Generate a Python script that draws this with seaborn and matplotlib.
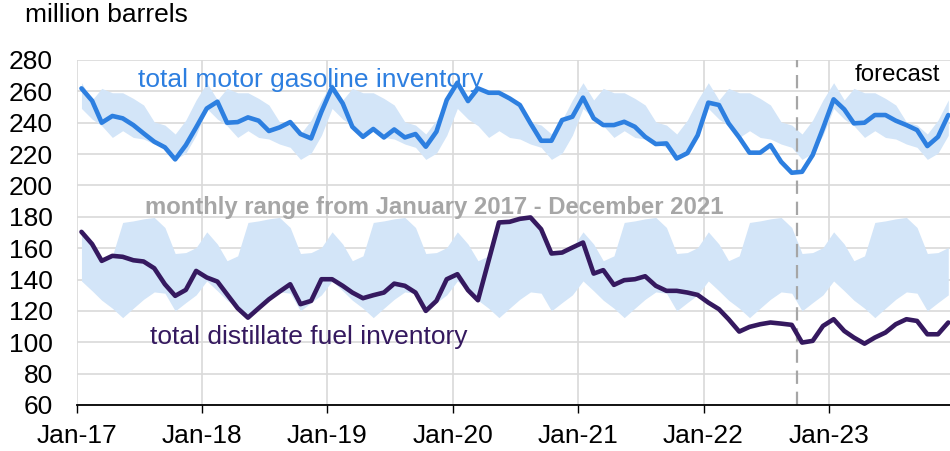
import numpy as np
import pandas as pd
import matplotlib
matplotlib.use("Agg")
import matplotlib.pyplot as plt
import matplotlib.dates as mdates
import seaborn as sns

# ---------------- data (million barrels, monthly) ----------------
months = pd.date_range("2017-01-01", periods=84, freq="MS")

gasoline = [
    261.9, 254.0, 240.0, 244.3, 242.8, 238.5, 233.2, 227.9, 224.3, 216.6, 225.7, 237.0,  # 2017
    249.1, 253.4, 240.0, 240.4, 243.4, 241.3, 234.7, 237.0, 240.4, 232.8, 230.0, 247.0,  # 2018
    262.6, 252.3, 237.4, 231.0, 236.0, 230.6, 235.7, 230.6, 232.8, 224.7, 234.3, 254.5,  # 2019
    265.5, 253.8, 261.9, 259.1, 259.1, 255.5, 251.3, 239.6, 228.5, 228.5, 241.7, 243.8,  # 2020
    256.0, 242.8, 238.5, 238.5, 240.6, 237.4, 231.0, 226.4, 226.8, 217.2, 220.6, 232.0,  # 2021
    252.8, 251.3, 239.6, 230.6, 220.9, 220.9, 225.7, 215.1, 208.1, 208.7, 219.4, 236.4,  # 2022
    254.9, 248.5, 239.6, 240.0, 244.9, 244.9, 241.3, 238.5, 235.3, 225.1, 231.0, 244.9,  # 2023
]

distillate = [
    170.4, 162.6, 151.9, 155.1, 154.5, 152.3, 151.5, 147.2, 137.0, 129.6, 133.4, 145.5,  # 2017
    141.3, 138.7, 130.6, 121.7, 115.7, 121.7, 127.4, 132.3, 137.0, 124.3, 126.4, 140.2,  # 2018
    140.2, 136.0, 131.7, 128.1, 130.0, 131.7, 137.4, 136.0, 131.7, 120.0, 126.4, 140.2,  # 2019
    143.4, 133.2, 126.8, 152.0, 176.4, 176.8, 178.7, 179.6, 172.1, 156.6, 157.2, 160.4,  # 2020
    163.6, 143.8, 146.0, 136.6, 139.6, 140.2, 142.1, 136.0, 132.8, 132.8, 131.7, 130.2,  # 2021
    125.3, 121.1, 114.7, 106.8, 109.8, 111.5, 112.6, 111.9, 111.1, 99.8, 100.9, 110.4,   # 2022
    114.7, 107.2, 103.0, 99.1, 103.0, 106.2, 111.5, 114.7, 113.6, 105.1, 105.1, 112.6,   # 2023
]

# monthly range Jan 2017 - Dec 2021 (Jan..Dec), repeated every year
gas_hi = [265.5, 254.5, 261.9, 259.1, 259.1, 255.5, 251.3, 240.5, 238.5, 232.8, 241.7, 254.5]
gas_lo = [249.1, 242.3, 238.1, 230.6, 234.9, 230.6, 229.6, 226.4, 224.3, 216.6, 220.6, 232.0]
dist_hi = [170.4, 162.6, 152.0, 155.1, 176.4, 177.4, 178.7, 179.6, 173.2, 156.6, 157.2, 160.4]
dist_lo = [139.1, 132.8, 126.8, 121.7, 115.7, 121.7, 127.4, 132.1, 131.3, 120.0, 125.3, 130.2]

forecast_start = "2022-10-01"
yticks = list(range(60, 281, 20))

# ---------------- styling ----------------
sns.set_theme(style="white")
plt.rcParams['font.family'] = ['Liberation Sans', 'DejaVu Sans']

C_GAS = "#2d7fe0"
C_DIST = "#35195f"
C_BAND = "#d3e5f8"
C_GRID = "#d9d9d9"
C_NOTE = "#a6a6a6"

fig = plt.figure(figsize=(9.5, 4.51), dpi=100)
ax = fig.add_axes([0.0807, 0.102, 0.9193, 0.765])

n_years = len(months) // 12
df = pd.DataFrame({
    "date": months + pd.Timedelta(days=14),
    "gasoline": gasoline,
    "distillate": distillate,
    "gas_hi": np.tile(gas_hi, n_years),
    "gas_lo": np.tile(gas_lo, n_years),
    "dist_hi": np.tile(dist_hi, n_years),
    "dist_lo": np.tile(dist_lo, n_years),
})

ax.fill_between(df["date"], df["gas_lo"], df["gas_hi"], color=C_BAND, lw=0, zorder=1)
ax.fill_between(df["date"], df["dist_lo"], df["dist_hi"], color=C_BAND, lw=0, zorder=1)

sns.lineplot(data=df, x="date", y="gasoline", color=C_GAS, lw=3.3, ax=ax, zorder=3)
sns.lineplot(data=df, x="date", y="distillate", color=C_DIST, lw=3.3, ax=ax, zorder=3)

ax.axvline(pd.Timestamp(forecast_start), color="#a6a6a6", lw=1.6,
           dashes=(6, 3.5), zorder=2)

ax.set_xlim(pd.Timestamp("2017-01-01"), pd.Timestamp("2023-12-20"))
ax.set_ylim(60, 280)
ax.set_yticks(yticks)
ax.xaxis.set_major_locator(mdates.YearLocator(month=1, day=1))
ax.xaxis.set_major_formatter(mdates.DateFormatter("%b-%y"))

ax.grid(True, color=C_GRID, lw=1.2, zorder=0)
ax.set_axisbelow(True)
for s in ["top", "right", "left"]:
    ax.spines[s].set_visible(False)
ax.spines["bottom"].set_color("black")
ax.spines["bottom"].set_linewidth(1.3)
ax.spines["bottom"].set_zorder(4)

ax.tick_params(axis="x", which="major", bottom=True, length=6, width=1.0,
               color="black", direction="out", pad=8, labelsize=19, labelcolor="black")
ax.tick_params(axis="y", left=False, length=0, pad=17, labelsize=19, labelcolor="black")
ax.set_xlabel("")
ax.set_ylabel("")

ax.text(0.0702, 0.942, "total motor gasoline inventory", transform=ax.transAxes,
        color=C_GAS, fontsize=19, va="center", ha="left", zorder=5)
ax.text(0.0782, 0.571, "monthly range from January 2017 - December 2021",
        transform=ax.transAxes, color=C_NOTE, fontsize=17.2, fontweight="bold",
        va="center", ha="left", zorder=5)
ax.text(0.0839, 0.197, "total distillate fuel inventory", transform=ax.transAxes,
        color=C_DIST, fontsize=19, va="center", ha="left", zorder=5)
ax.text(0.891, 0.957, "forecast", transform=ax.transAxes,
        color="black", fontsize=17.3, va="center", ha="left", zorder=5)

fig.text(25 / 950, 1 - 15 / 451, "million barrels", fontsize=19, color="black",
         va="center", ha="left")

fig.savefig("out.png", dpi=100)
